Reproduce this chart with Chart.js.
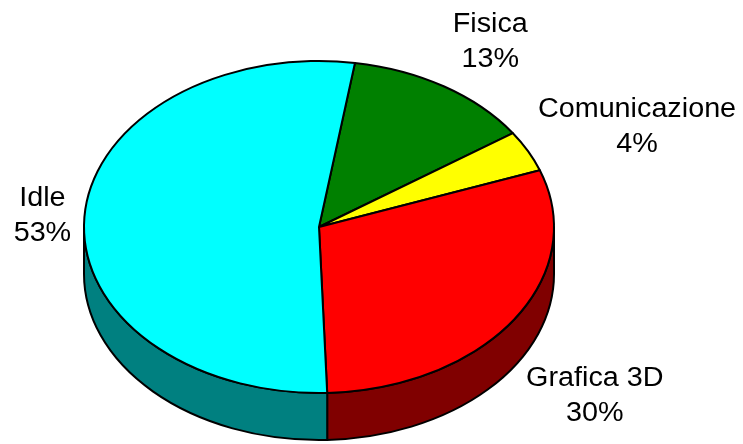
<!DOCTYPE html>
<html>
<head>
<meta charset="utf-8">
<script src="https://cdn.jsdelivr.net/npm/chart.js@4.4.1/dist/chart.umd.min.js"></script>
<style>
  html, body { margin: 0; padding: 0; background: #ffffff; }
  #wrap { width: 743px; height: 444px; position: relative; }
</style>
</head>
<body>
<div id="wrap"><canvas id="c" width="743" height="444"></canvas></div>
<script>
// Share of frame time per subsystem
const categories = ['Fisica', 'Comunicazione', 'Grafica 3D', 'Idle'];
const shares = [13, 4, 30, 53];

// Styling
const topColors  = ['#008000', '#FFFF00', '#FF0000', '#00FFFF'];
const sideColors = ['#004000', '#808000', '#800000', '#008080'];
const ASPECT = 235 / 166;   // horizontal stretch of the tilted disc
const DEPTH = 47;           // thickness of the disc
const FONT_PX = 27;
const LINE_GAP = 35;
// label nudges relative to the rim point at each slice's middle angle
const labelNudge = [[46, -55], [109, -34], [81, 19], [-42, -11]];

const pie3d = {
  id: 'pie3d',
  beforeDatasetsDraw() { return false; },
  afterDraw(chart) {
    const ctx = chart.ctx;
    const arcs = chart.getDatasetMeta(0).data;
    if (!arcs.length) return;
    const cx = arcs[0].x, cy = arcs[0].y;
    const ry = arcs[0].outerRadius, rx = ry * ASPECT;
    const TAU = Math.PI * 2;

    ctx.save();
    ctx.lineWidth = 2;
    ctx.strokeStyle = '#000000';
    ctx.lineJoin = 'round';

    // visible side walls (front half of the rim)
    arcs.forEach((arc, i) => {
      for (let k = -1; k <= 1; k++) {
        const s = Math.max(arc.startAngle, TAU * k);
        const e = Math.min(arc.endAngle, TAU * k + Math.PI);
        if (e <= s) continue;
        ctx.beginPath();
        ctx.ellipse(cx, cy, rx, ry, 0, s, e, false);
        ctx.lineTo(cx + rx * Math.cos(e), cy + DEPTH + ry * Math.sin(e));
        ctx.ellipse(cx, cy + DEPTH, rx, ry, 0, e, s, true);
        ctx.closePath();
        ctx.fillStyle = sideColors[i];
        ctx.fill();
        ctx.stroke();
      }
    });

    // top faces
    arcs.forEach((arc, i) => {
      ctx.beginPath();
      ctx.moveTo(cx, cy);
      ctx.ellipse(cx, cy, rx, ry, 0, arc.startAngle, arc.endAngle, false);
      ctx.closePath();
      ctx.fillStyle = topColors[i];
      ctx.fill();
      ctx.stroke();
    });

    // labels
    ctx.fillStyle = '#000000';
    ctx.font = FONT_PX + 'px "Liberation Sans", Arial, sans-serif';
    ctx.textAlign = 'center';
    ctx.textBaseline = 'alphabetic';
    arcs.forEach((arc, i) => {
      const mid = (arc.startAngle + arc.endAngle) / 2;
      let px = cx + rx * Math.cos(mid);
      let py = cy + ry * Math.sin(mid);
      if (Math.sin(mid) > 0) py += DEPTH;
      const lx = px + labelNudge[i][0];
      const ly = py + labelNudge[i][1];
      const lines = [categories[i], shares[i] + '%'];
      lines.forEach((t, j) => {
        ctx.save();
        ctx.translate(lx, ly + j * LINE_GAP);
        ctx.scale(1.065, 1);
        ctx.fillText(t, 0, 0);
        ctx.restore();
      });
    });
    ctx.restore();
  }
};

new Chart(document.getElementById('c'), {
  type: 'pie',
  data: {
    labels: categories,
    datasets: [{
      data: shares,
      backgroundColor: topColors,
      borderWidth: 0,
      offset: 0
    }]
  },
  options: {
    responsive: false,
    animation: false,
    rotation: 8.8,
    layout: { padding: { top: 61, bottom: 51, left: 153, right: 258 } },
    plugins: { legend: { display: false }, tooltip: { enabled: false } },
    events: []
  },
  plugins: [pie3d]
});
</script>
</body>
</html>
